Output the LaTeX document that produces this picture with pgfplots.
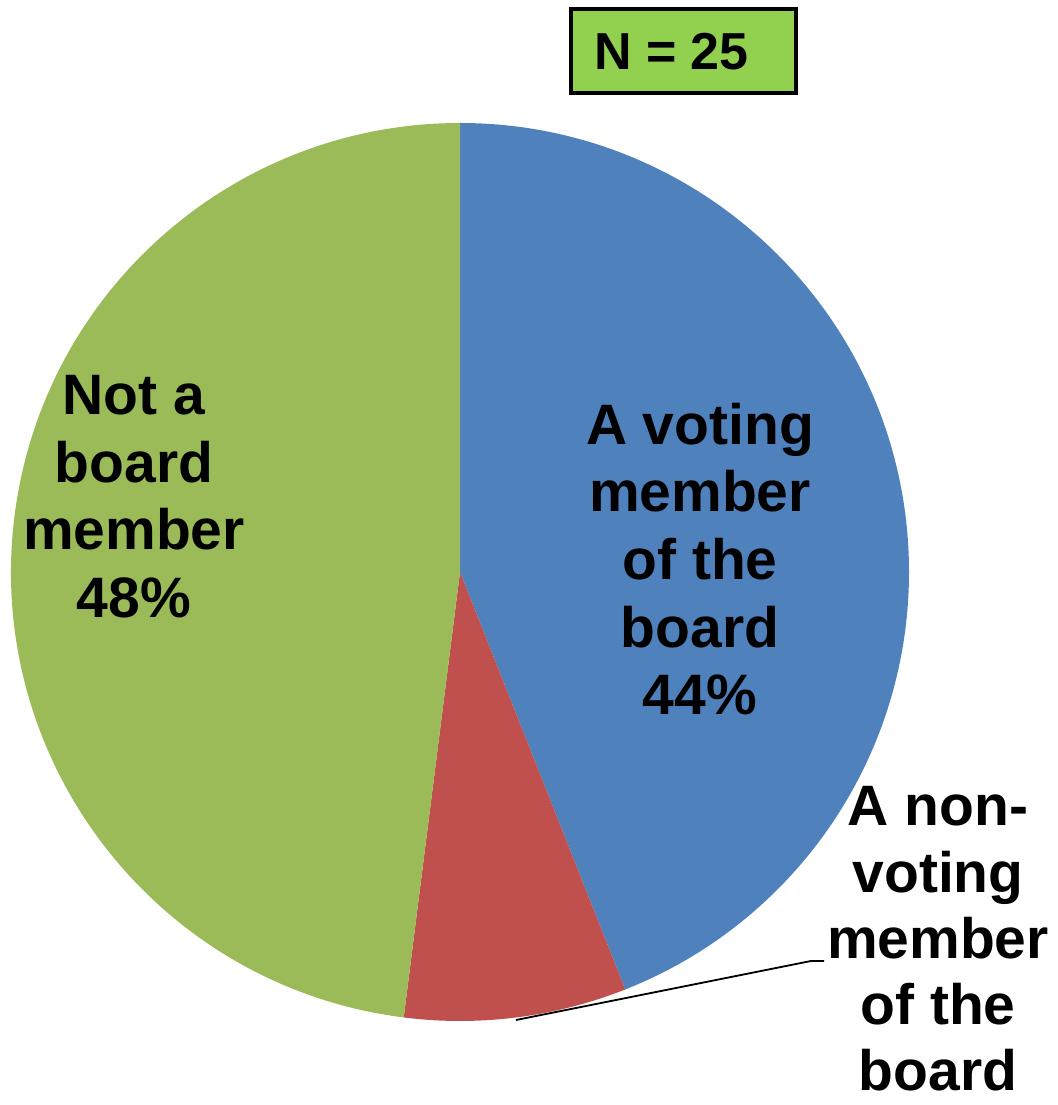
\documentclass[border=0pt]{standalone}
\usepackage{pgfplots}
\pgfplotsset{compat=1.18}
\usepackage{fontspec}
\setmainfont{Liberation Sans}
\definecolor{cblue}{HTML}{4F81BD}
\definecolor{cred}{HTML}{C0504D}
\definecolor{cgreen}{HTML}{9BBB59}
\definecolor{nbox}{HTML}{92D050}
\begin{document}
\begin{tikzpicture}
% shares in percent: voting member, non-voting member, not a member
\def\pa{44}
\def\pb{8}
\def\pc{48}
\pgfmathsetmacro\sa{90}
\pgfmathsetmacro\ea{90-3.6*\pa}
\pgfmathsetmacro\eb{\ea-3.6*\pb}
\pgfmathsetmacro\ec{\eb-3.6*\pc}
\tikzset{lab/.style={anchor=base,inner sep=0pt,font=\fontsize{57}{67}\selectfont\bfseries}}
\begin{axis}[at={(0,0)},anchor=south west,width=1057pt,height=1105pt,scale only axis,
  xmin=0,xmax=1057,ymin=0,ymax=1105,hide axis,clip=false]
\path (axis cs:0,0) rectangle (axis cs:1057,1105);
\fill[cblue] (axis cs:460,533) -- (axis cs:460,982) arc[start angle=\sa,end angle=\ea,radius=449pt] -- cycle;
\fill[cred] (axis cs:460,533) -- ++(\ea:449pt) arc[start angle=\ea,end angle=\eb,radius=449pt] -- cycle;
\fill[cgreen] (axis cs:460,533) -- ++(\eb:449pt) arc[start angle=\eb,end angle=\ec,radius=449pt] -- cycle;
% labels
\node[lab] at (axis cs:134,690) {Not a};
\node[lab] at (axis cs:134,622) {board};
\node[lab] at (axis cs:134,555) {member};
\node[lab] at (axis cs:134,487) {48\%};
\node[lab] at (axis cs:700,660) {A voting};
\node[lab] at (axis cs:700,593) {member};
\node[lab] at (axis cs:700,525) {of the};
\node[lab] at (axis cs:700,457) {board};
\node[lab] at (axis cs:700,390) {44\%};
\node[lab] at (axis cs:938,279) {A non-};
\node[lab] at (axis cs:938,212) {voting};
\node[lab] at (axis cs:938,146) {member};
\node[lab] at (axis cs:938,80) {of the};
\node[lab] at (axis cs:938,14) {board};
\draw[black,line width=1.8pt] (axis cs:516,85) -- (axis cs:811,144) -- (axis cs:824,144);
% N box
\draw[black,line width=4pt,fill=nbox] (axis cs:571,1096) rectangle (axis cs:796,1012);
\node[anchor=base west,inner sep=0pt,font=\fontsize{52}{60}\selectfont\bfseries] at (axis cs:594,1035) {N = 25};
\end{axis}
\pgfresetboundingbox
\path (0,0) rectangle (1057pt,1105pt);
\end{tikzpicture}
\end{document}
